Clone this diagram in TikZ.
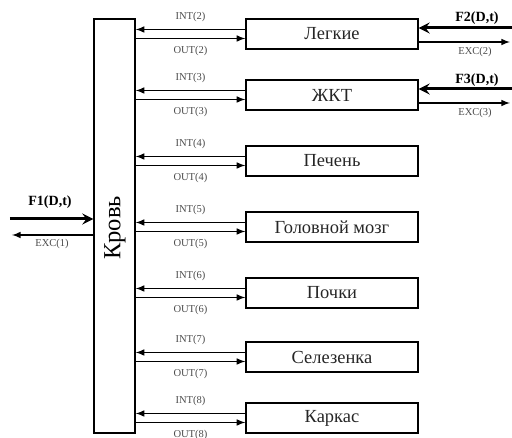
\documentclass[tikz,border=0pt]{standalone}
\usepackage{fontspec}
\setmainfont{Liberation Serif}
\usetikzlibrary{arrows, positioning, calc}

\tikzset{
  organ/.style={draw, line width=0.8pt, rectangle, minimum width=3.44cm, minimum height=0.6cm, text=black!85, font=\rmfamily\fontsize{10.5}{12}\selectfont},
  flow/.style={-latex, line width=0.7pt},
  inflow/.style={-stealth, line width=1.7pt},
  tiny/.style={font=\rmfamily\fontsize{6}{7}\selectfont, text=black!70, inner sep=0pt},
  flux/.style={font=\rmfamily\bfseries\fontsize{8}{9}\selectfont, inner sep=0pt}
}

\begin{document}
\begin{tikzpicture}[x=0.02cm, y=-0.02cm]
  \useasboundingbox (0,0) rectangle (512,438);

  % Blood
  \node[draw, line width=0.8pt, rectangle, minimum width=0.82cm, minimum height=8.28cm] (krov) at (114.5,226) {};
  \node[rotate=90, font=\rmfamily\fontsize{14}{15}\selectfont] (krovtxt) at (115,228) {Кровь};

  % Organs
  \node[organ] (leg) at (332,34) {Легкие};
  \node[organ] (zkt) at (332,95) {ЖКТ};
  \node[organ] (pech) at (332,161) {Печень};
  \node[organ] (mozg) at (332,227) {Головной мозг};
  \node[organ] (poch) at (332,293) {Почки};
  \node[organ] (sel) at (332,357) {Селезенка};
  \node[organ] (kark) at (332,418) {Каркас};

  % Exchange with blood
  \draw[flow] ($(leg.west)+(0,-4.5)$) coordinate (i2) -- (krov.east |- i2) node[midway, tiny, above=4pt] {INT(2)};
  \draw[flow] (krov.east |- leg.west) ++(0,4.5) coordinate (o2) -- (leg.west |- o2) node[midway, tiny, below=4pt] {OUT(2)};

  \draw[flow] ($(zkt.west)+(0,-4.5)$) coordinate (i3) -- (krov.east |- i3) node[midway, tiny, above=4pt] {INT(3)};
  \draw[flow] (krov.east |- zkt.west) ++(0,4.5) coordinate (o3) -- (zkt.west |- o3) node[midway, tiny, below=4pt] {OUT(3)};

  \draw[flow] ($(pech.west)+(0,-4.5)$) coordinate (i4) -- (krov.east |- i4) node[midway, tiny, above=4pt] {INT(4)};
  \draw[flow] (krov.east |- pech.west) ++(0,4.5) coordinate (o4) -- (pech.west |- o4) node[midway, tiny, below=4pt] {OUT(4)};

  \draw[flow] ($(mozg.west)+(0,-4.5)$) coordinate (i5) -- (krov.east |- i5) node[midway, tiny, above=4pt] {INT(5)};
  \draw[flow] (krov.east |- mozg.west) ++(0,4.5) coordinate (o5) -- (mozg.west |- o5) node[midway, tiny, below=4pt] {OUT(5)};

  \draw[flow] ($(poch.west)+(0,-4.5)$) coordinate (i6) -- (krov.east |- i6) node[midway, tiny, above=4pt] {INT(6)};
  \draw[flow] (krov.east |- poch.west) ++(0,4.5) coordinate (o6) -- (poch.west |- o6) node[midway, tiny, below=4pt] {OUT(6)};

  \draw[flow] ($(sel.west)+(0,-4.5)$) coordinate (i7) -- (krov.east |- i7) node[midway, tiny, above=4pt] {INT(7)};
  \draw[flow] (krov.east |- sel.west) ++(0,4.5) coordinate (o7) -- (sel.west |- o7) node[midway, tiny, below=4pt] {OUT(7)};

  \draw[flow] ($(kark.west)+(0,-4.5)$) coordinate (i8) -- (krov.east |- i8) node[midway, tiny, above=4pt] {INT(8)};
  \draw[flow] (krov.east |- kark.west) ++(0,4.5) coordinate (o8) -- (kark.west |- o8) node[midway, tiny, below=4pt] {OUT(8)};

  % Outer fluxes
  \coordinate (f1) at (10,219);
  \coordinate (e1) at (12,235);
  \draw[inflow] (f1) -- (krov.west |- f1);
  \node[flux] at (50,202) {F1(D,t)};
  \draw[flow] (krov.west |- e1) -- (e1);
  \node[tiny] at (52,244) {EXC(1)};

  \coordinate (f2) at (512,28);
  \coordinate (e2) at (510,42);
  \draw[inflow] (f2) -- (leg.east |- f2);
  \node[flux] at (477,18) {F2(D,t)};
  \draw[flow] (leg.east |- e2) -- (e2);
  \node[tiny] at (475,52) {EXC(2)};

  \coordinate (f3) at (512,89);
  \coordinate (e3) at (510,103);
  \draw[inflow] (f3) -- (zkt.east |- f3);
  \node[flux] at (477,80) {F3(D,t)};
  \draw[flow] (zkt.east |- e3) -- (e3);
  \node[tiny] at (475,113) {EXC(3)};
\end{tikzpicture}
\end{document}
